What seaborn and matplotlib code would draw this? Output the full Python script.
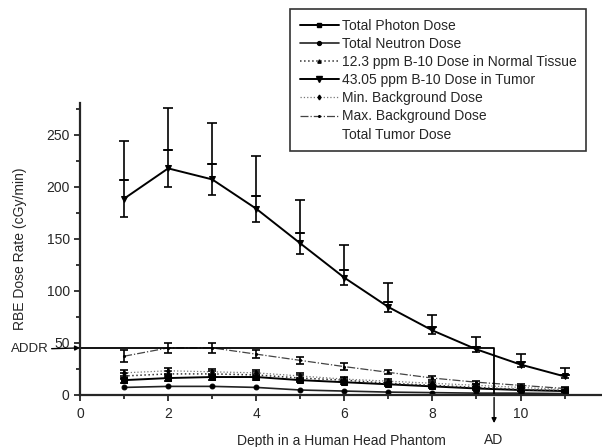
import numpy as np
import pandas as pd
import seaborn as sns
import matplotlib.pyplot as plt
from matplotlib.lines import Line2D

# depth positions (cm)
depth = [1, 2, 3, 4, 5, 6, 7, 8, 9, 10, 11]

# dose rates (cGy/min)
photon = [14, 16, 17, 17, 14, 12, 10, 8, 6, 4.5, 3.5]
photon_err = [2.5, 2.5, 2.5, 2.5, 2, 2, 1.5, 1.5, 1, 1, 1]
neutron = [7, 8, 8, 7, 4.5, 3.5, 2.5, 2, 1.5, 1.5, 1]
normal_b10 = [18, 20, 20, 19, 16, 14, 11, 9, 7, 5, 4]
normal_err = [3, 3, 3, 3, 2.5, 2, 2, 1.5, 1.5, 1, 1]
tumor_b10 = [188.5, 217.6, 207, 178.8, 145.5, 112.5, 84.3, 61.8, 43.6, 29, 17.6]
tumor_err = [17.5, 18, 15, 12.5, 10, 7.5, 5, 3.5, 2.5, 2, 1.5]
min_bg = [21, 23, 22, 21, 18, 15, 13, 11, 9, 7, 5]
min_err = [3, 3, 3, 3, 2.5, 2, 2, 1.5, 1.5, 1, 1]
max_bg = [37, 45, 45, 39, 33, 27, 21.5, 16, 12, 9, 6]
max_err = [5.5, 5, 4.5, 4, 3.5, 3, 2, 1.5, 1.5, 1, 1]
total_tumor = [206, 235.6, 222, 191.3, 155.5, 120, 89.3, 65.3, 46.1, 31, 19.1]
total_tumor_top = [244, 276, 261.5, 229.5, 187, 144, 107, 76.6, 55.5, 39, 26]

ADDR = 45
AD = 9.4

sns.set_style("ticks")
plt.rcParams['font.family'] = ['Liberation Sans', 'DejaVu Sans']
plt.rcParams['font.size'] = 10

fig = plt.figure(figsize=(6.02, 4.47), dpi=100)
ax = fig.add_axes([0.133, 0.117, 0.867, 0.6515])

series = [
    ('Total Photon Dose', photon, photon_err, dict(ls='-', marker='s', ms=4, lw=1.4, color='black')),
    ('Total Neutron Dose', neutron, None, dict(ls='-', marker='o', ms=3.5, lw=1.2, color='#222222')),
    ('12.3 ppm B-10 Dose in Normal Tissue', normal_b10, normal_err, dict(ls=':', marker='^', ms=3, lw=1.1, color='#333333')),
    ('43.05 ppm B-10 Dose in Tumor', tumor_b10, tumor_err, dict(ls='-', marker='v', ms=5, lw=1.4, color='black')),
    ('Min. Background Dose', min_bg, min_err, dict(ls=':', marker='d', ms=3, lw=0.9, color='#777777')),
    ('Max. Background Dose', max_bg, max_err, dict(ls='-.', marker='.', ms=3, lw=0.9, color='#444444')),
]

handles = []
for name, vals, err, st in series:
    df = pd.DataFrame({'depth': depth, 'dose': vals})
    sns.lineplot(data=df, x='depth', y='dose', ax=ax, linestyle=st['ls'], color=st['color'],
                 marker=st['marker'], markersize=st['ms'], linewidth=st['lw'],
                 markeredgecolor='black', markerfacecolor='black')
    if err is not None:
        ax.errorbar(depth, vals, yerr=err, fmt='none', ecolor='black', elinewidth=1.2, capsize=3, capthick=1.2)
    handles.append(Line2D([], [], linestyle=st['ls'], color=st['color'], marker=st['marker'],
                          markersize=st['ms'] * 0.8, linewidth=st['lw'], markerfacecolor='black',
                          markeredgecolor='black'))

# total tumor dose shown only as upper error bars
up = np.array(total_tumor_top) - np.array(total_tumor)
ax.errorbar(depth, total_tumor, yerr=[np.zeros(len(up)), up], fmt='none', ecolor='black',
            elinewidth=1.2, capsize=3.5, capthick=1.2)
handles.append(Line2D([], [], linestyle='none'))

# allowed dose rate line and advantage depth
ax.plot([0, AD, AD], [ADDR, ADDR, 0], color='black', lw=1.3)
ax.annotate('', xy=(AD, -30), xytext=(AD, 0), xycoords='data', annotation_clip=False,
            arrowprops=dict(arrowstyle='-|>', color='black', lw=1, mutation_scale=7))
ax.text(AD, -0.155, 'AD', transform=ax.get_xaxis_transform(), ha='center', va='center', fontsize=10)
ax.annotate('ADDR', xy=(0, ADDR), xytext=(-50, -1), textcoords='offset points', ha='left', va='center',
            fontsize=9.5, annotation_clip=False,
            arrowprops=dict(arrowstyle='-|>', color='black', lw=1, mutation_scale=7, shrinkA=0, shrinkB=0))

ax.set_xlim(0, 11.85)
ax.set_ylim(0, 280)
ax.set_xticks(range(0, 12, 2))
ax.set_xticks(range(1, 12, 2), minor=True)
ax.set_yticks(range(0, 251, 50))
ax.set_yticks(range(25, 280, 50), minor=True)
ax.tick_params(axis='both', which='major', length=4, width=1.3, labelsize=10)
ax.tick_params(axis='x', which='major', pad=5)
ax.tick_params(axis='both', which='minor', length=3, width=1.3)
sns.despine(ax=ax)
for s in ['left', 'bottom']:
    ax.spines[s].set_linewidth(1.6)

ax.set_xlabel('Depth in a Human Head Phantom', fontsize=10, labelpad=9)
ax.set_ylabel('RBE Dose Rate (cGy/min)', fontsize=10, labelpad=14)

leg = fig.legend(handles, [s[0] for s in series] + ['Total Tumor Dose'], loc='upper left',
                 bbox_to_anchor=(0.482, 0.98), frameon=True, fancybox=False, edgecolor='black',
                 fontsize=10, handlelength=2.8, handletextpad=0.2, labelspacing=0.3,
                 borderpad=0.7, borderaxespad=0)
leg.get_frame().set_linewidth(1.2)

fig.savefig('out.png', dpi=100)
